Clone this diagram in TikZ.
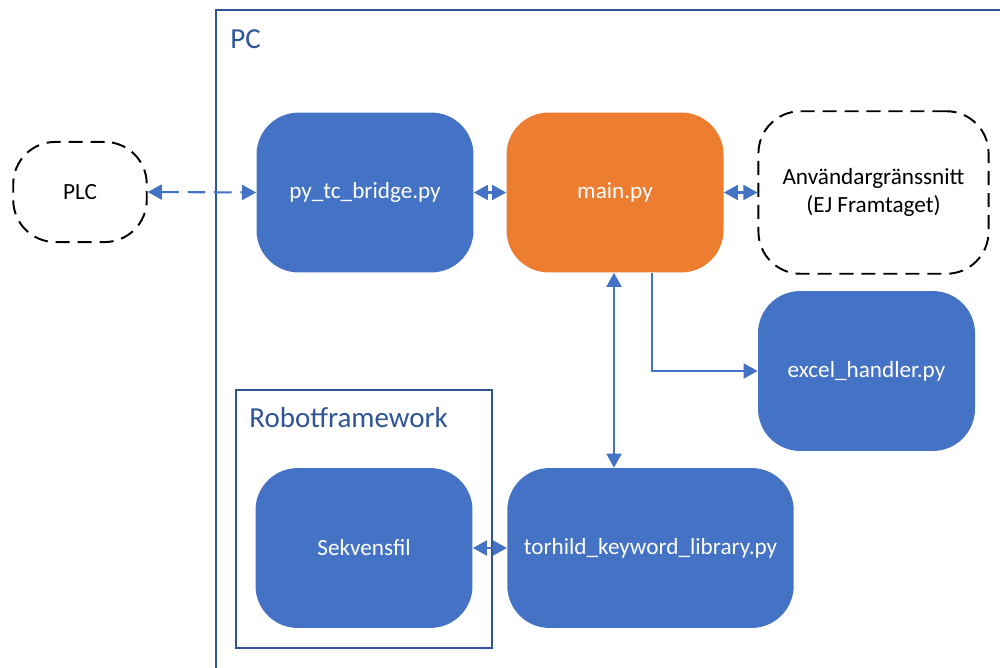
\documentclass[tikz,border=0pt]{standalone}
\usepackage{fontspec}
\setmainfont{Carlito}
\usetikzlibrary{arrows.meta}
\definecolor{boxblue}{HTML}{4472C4}
\definecolor{boxorange}{HTML}{ED7D31}
\definecolor{framedark}{HTML}{2F5597}
\tikzset{
  module/.style={rectangle, rounded corners=24pt, fill=boxblue, text=white,
    minimum width=123.5pt, minimum height=91pt, inner sep=0pt, font=\fontsize{13.2}{15.5}\selectfont},
  mainmod/.style={module, fill=boxorange},
  external/.style={rectangle, rounded corners=24pt, draw=black, dash pattern=on 8pt off 4.5pt,
    line width=1.1pt, fill=white, text=black, inner sep=0pt, font=\fontsize{13.2}{15.5}\selectfont, align=center},
  link/.style={draw=boxblue, line width=1.2pt},
  frameline/.style={draw=framedark, line width=0.9pt},
  framelabel/.style={text=framedark, anchor=west, inner sep=0pt, font=\fontsize{16.5}{19}\selectfont},
  dtip/.style={{Triangle[length=8pt, width=8.5pt]}-{Triangle[length=8pt, width=8.5pt]}},
  stip/.style={-{Triangle[length=8pt, width=8.5pt]}},
}
\begin{document}
\begin{tikzpicture}[x=0.02cm, y=-0.02cm]
  \useasboundingbox (0,0) rectangle (1000,668);
  \clip (0,0) rectangle (1000,668);
  % PC enclosure (continues past the page edge)
  \draw[frameline] (216,680) -- (216,10) -- (1010,10);
  \node[framelabel] (pclabel) at (230,39) {PC};
  % Robotframework group
  \draw[frameline] (236,390) rectangle (492,648);
  \node[framelabel] (rflabel) at (249,418) {Robotframework};

  % modules
  \node[module] (bridge) at (365,192.5) {py\_tc\_bridge.py};
  \node[mainmod] (main) at (615,192.5) {main.py};
  \node[module] (excel) at (866.5,371) {excel\_handler.py};
  \node[module] (seq) at (364,548) {Sekvensfil};
  \node[module, minimum width=163pt] (kw) at (650.5,548) {torhild\_keyword\_library.py};

  % external parts
  \node[external, minimum width=76pt, minimum height=57pt, rounded corners=24pt] (plc) at (80,192) {PLC};
  \node[external, minimum width=131pt, minimum height=92.5pt] (ui) at (873.5,192.5)
    {Användargränssnitt\\(EJ Framtaget)};

  % connections
  \draw[link, dash pattern=on 10pt off 5pt, dtip] (plc.east) -- (bridge.west);
  \draw[link, dtip] (bridge.east) -- (main.west);
  \draw[link, dtip] (main.east) -- (ui.west);
  \draw[link, dtip] (main.south -| 614,0) -- (kw.north -| 614,0);
  \draw[link, stip] (main.south -| 652,0) |- (excel.west);
  \draw[link, dtip] (seq.east) -- (kw.west);
\end{tikzpicture}
\end{document}
